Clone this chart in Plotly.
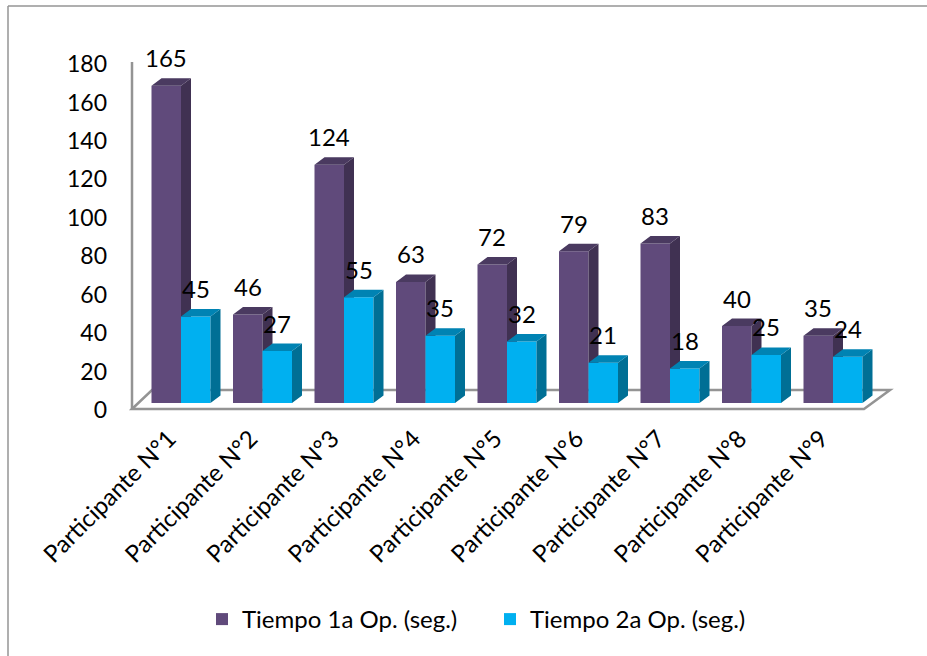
import plotly.graph_objects as go

categories = ["Participante N°1", "Participante N°2", "Participante N°3",
              "Participante N°4", "Participante N°5", "Participante N°6",
              "Participante N°7", "Participante N°8", "Participante N°9"]
tiempo_1 = [165, 46, 124, 63, 72, 79, 83, 40, 35]
tiempo_2 = [45, 27, 55, 35, 32, 21, 18, 25, 24]
y_ticks = list(range(0, 181, 20))

W, H = 927, 656
PLOT_L, PLOT_R, PLOT_T, PLOT_B = 132, 890, 58, 413
GROUP_PX, FIRST_PX = 81.5, 181
UNIT_PX = 346 / 180
BASE_PX = 403
TICK_ZERO_PX = 410
BAR_W = 29.5 / GROUP_PX
DX, DY = 10 / GROUP_PX, 7.5 / UNIT_PX
LABEL_SHIFT = 12 / GROUP_PX
FONT = "Lato"
GRAY = "#949494"


def px(x, y):
    """Pixel position to paper fractions of the plot area."""
    return (x - PLOT_L) / (PLOT_R - PLOT_L), (PLOT_B - y) / (PLOT_B - PLOT_T)


def depth_faces(centres, values):
    """Outlines of the top and side faces of a row of extruded bars."""
    top_x, top_y, side_x, side_y = [], [], [], []
    for c, v in zip(centres, values):
        x0, x1 = c - BAR_W / 2, c + BAR_W / 2
        top_x += [x0, x0 + DX, x1 + DX, x1, x0, None]
        top_y += [v, v + DY, v + DY, v, v, None]
        side_x += [x1, x1 + DX, x1 + DX, x1, x1, None]
        side_y += [0, DY, v + DY, v, 0, None]
    return top_x, top_y, side_x, side_y


def add_series(fig, name, centres, values, front, top, side, axis):
    fig.add_trace(go.Bar(x=centres, y=values, width=BAR_W, name=name, yaxis=axis,
                         marker=dict(color=front, line=dict(width=0))))
    tx, ty, sx, sy = depth_faces(centres, values)
    for xs, ys, colour in ((sx, sy, side), (tx, ty, top)):
        fig.add_trace(go.Scatter(x=xs, y=ys, mode="lines", fill="toself", fillcolor=colour,
                                 line=dict(width=0), showlegend=False, hoverinfo="skip",
                                 yaxis=axis))


positions = list(range(len(categories)))
centres_1 = [p - BAR_W / 2 for p in positions]
centres_2 = [p + BAR_W / 2 for p in positions]

fig = go.Figure()
add_series(fig, "Tiempo 1a Op. (seg.)", centres_1, tiempo_1, "#604A7B", "#4A3A60", "#403152", "y2")
add_series(fig, "Tiempo 2a Op. (seg.)", centres_2, tiempo_2, "#00B0F0", "#0083B3", "#006F95", "y3")

# Value labels sit a fixed distance above the front face of each bar
annotations = []
for centres, values, axis in ((centres_1, tiempo_1, "y2"), (centres_2, tiempo_2, "y3")):
    for c, v in zip(centres, values):
        annotations.append(dict(x=c, y=v, xref="x", yref=axis, text=str(v), showarrow=False,
                                yshift=28, font=dict(family=FONT, size=24, color="black")))

# Floor and wall of the chart box, and the outer frame
floor = [px(132, 409), px(152, 390), px(890, 390), px(864, 409)]
path = "M" + " L".join(f"{a:.5f},{b:.5f}" for a, b in floor) + " Z"
wx, wy0 = px(132, 409)
_, wy1 = px(132, 62)
fx0, fy0 = px(8, 6)
fx1, fy1 = px(930, 660)
shapes = [
    dict(type="path", path=path, xref="paper", yref="paper", layer="below",
         fillcolor="white", line=dict(color=GRAY, width=2.5)),
    dict(type="line", xref="paper", yref="paper", x0=wx, x1=wx, y0=wy0, y1=wy1,
         layer="below", line=dict(color=GRAY, width=2.5)),
    dict(type="line", xref="paper", yref="paper", x0=fx0, x1=fx1, y0=fy0, y1=fy0,
         layer="below", line=dict(color=GRAY, width=1.5)),
    dict(type="line", xref="paper", yref="paper", x0=fx0, x1=fx0, y0=fy0, y1=fy1,
         layer="below", line=dict(color=GRAY, width=1.5)),
]

bar_range = [(BASE_PX - PLOT_B) / UNIT_PX, (BASE_PX - PLOT_T) / UNIT_PX]
tick_range = [(TICK_ZERO_PX - PLOT_B) / UNIT_PX, (TICK_ZERO_PX - PLOT_T) / UNIT_PX]

fig.update_layout(
    width=W, height=H,
    margin=dict(l=PLOT_L, r=W - PLOT_R, t=PLOT_T, b=H - PLOT_B, pad=0, autoexpand=False),
    paper_bgcolor="white", plot_bgcolor="rgba(0,0,0,0)",
    barmode="overlay",
    font=dict(family=FONT, color="black"),
    xaxis=dict(range=[(PLOT_L - FIRST_PX) / GROUP_PX, (PLOT_R - FIRST_PX) / GROUP_PX],
               tickmode="array", tickvals=[p - LABEL_SHIFT for p in positions],
               ticktext=categories, tickangle=-45,
               ticks="", showgrid=False, zeroline=False, showline=False,
               ticklabelstandoff=6, tickfont=dict(family=FONT, size=24)),
    yaxis=dict(range=tick_range, tickmode="array", tickvals=y_ticks, ticks="", showgrid=False,
               zeroline=False, showline=False,
               ticklabelstandoff=24, tickfont=dict(family=FONT, size=23)),
    yaxis2=dict(range=bar_range, overlaying="y", visible=False),
    yaxis3=dict(range=bar_range, overlaying="y", visible=False),
    legend=dict(orientation="h", x=(202 - PLOT_L) / (PLOT_R - PLOT_L), xanchor="left",
                y=(PLOT_B - 597) / (PLOT_B - PLOT_T), yanchor="top",
                font=dict(family=FONT, size=24), entrywidthmode="pixels", entrywidth=243,
                traceorder="normal", bgcolor="rgba(0,0,0,0)"),
    annotations=annotations,
    shapes=shapes,
)

# The tick axis carries no bars of its own, so give it an invisible anchor
fig.add_trace(go.Scatter(x=[0], y=[0], mode="markers", marker=dict(opacity=0),
                         showlegend=False, hoverinfo="skip"))

fig.write_html("out.html", config=dict(displayModeBar=False))
